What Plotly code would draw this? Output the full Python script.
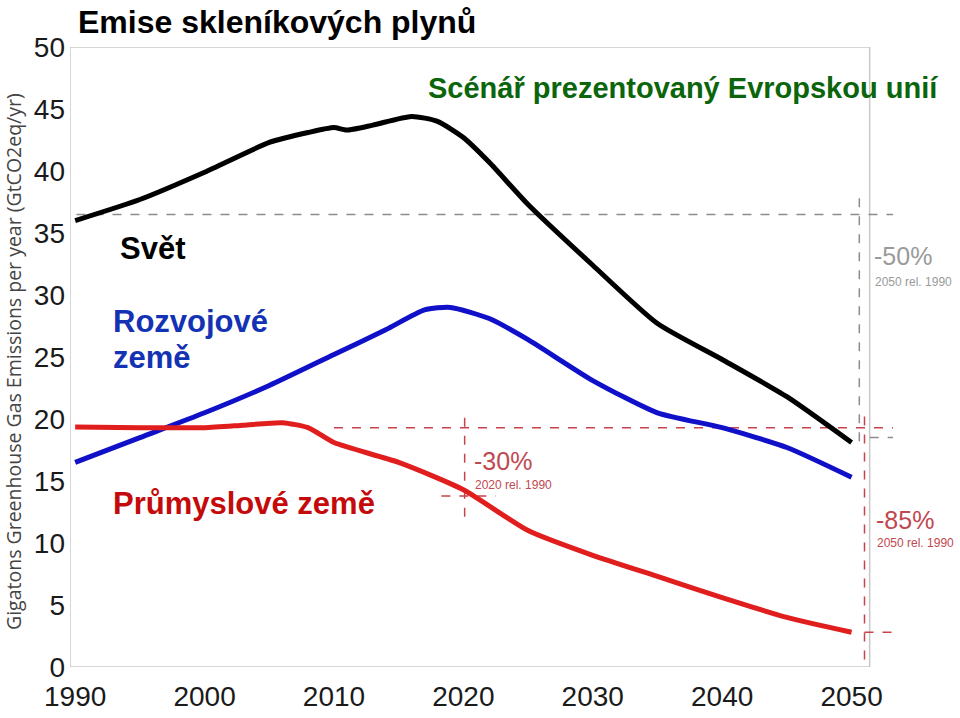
import plotly.graph_objects as go

# ---- data ----
years = [1990, 1995, 2000, 2005, 2008, 2010, 2011, 2013, 2016, 2018, 2020, 2022,
         2025, 2030, 2035, 2040, 2045, 2050]
world = [36.0, 37.7, 39.9, 42.3, 43.1, 43.5, 43.3, 43.7, 44.4, 44.0, 42.7, 40.7,
         37.3, 32.4, 27.7, 24.8, 21.8, 18.1]

dev_years = [1990, 1995, 2000, 2005, 2010, 2014, 2017, 2019, 2022, 2025, 2030,
             2035, 2040, 2045, 2050]
developing = [16.5, 18.5, 20.5, 22.7, 25.2, 27.2, 28.8, 29.0, 28.1, 26.4, 23.1,
              20.5, 19.3, 17.7, 15.3]

ind_years = [1990, 1995, 2000, 2003, 2006, 2008, 2010, 2015, 2020, 2025, 2030,
             2035, 2040, 2045, 2050]
industrial = [19.35, 19.3, 19.3, 19.5, 19.7, 19.3, 18.1, 16.5, 14.3, 11.0, 9.0,
              7.3, 5.6, 4.0, 2.8]

x_ticks = [1990, 2000, 2010, 2020, 2030, 2040, 2050]
y_ticks = [0, 5, 10, 15, 20, 25, 30, 35, 40, 45, 50]

world_ref = 36.5      # 1990 world level
ind_ref = 19.3        # 1990 industrial level
ind_2020 = 13.8       # -30 % level
world_2050 = 18.5     # -50 % level
ind_2050 = 2.8        # -85 % level

X0, X1 = 1989.6, 2054.13
FRAME_X = 2051.4

fig = go.Figure()

GRAY = "#8c8c8c"
RED_D = "#c8424c"

def dline(x0, y0, x1, y1, color, width=1.5):
    fig.add_shape(type="line", x0=x0, y0=y0, x1=x1, y1=y1, xref="x", yref="y",
                  line=dict(color=color, width=width, dash="dash"), layer="below")

# frame
for (a, b, c, d) in [(X0, 0, FRAME_X, 0), (X0, 0, X0, 50), (X0, 50, FRAME_X, 50),
                     (FRAME_X, 0, FRAME_X, 50)]:
    fig.add_shape(type="line", x0=a, y0=b, x1=c, y1=d, xref="x", yref="y",
                  line=dict(color="#c8c8c8", width=1.5), layer="below")

# reference dashed lines
dline(1990.1, world_ref, 2053.2, world_ref, GRAY)
dline(2050.6, 37.8, 2050.6, 17.5, GRAY)
dline(2051.4, world_2050, 2053.2, world_2050, GRAY)
dline(2010.0, ind_ref, 2053.2, ind_ref, RED_D)
dline(2020.1, 20.1, 2020.1, 12.0, RED_D)
dline(2018.3, ind_2020, 2022.5, ind_2020, RED_D)
dline(2051.0, 20.2, 2051.0, 0, RED_D)
dline(2051.0, ind_2050, 2053.6, ind_2050, RED_D)

fig.add_trace(go.Scatter(x=years, y=world, mode="lines", line=dict(color="#000000", width=5, shape="spline", smoothing=0.6), hoverinfo="skip"))
fig.add_trace(go.Scatter(x=dev_years, y=developing, mode="lines", line=dict(color="#1010c8", width=5, shape="spline", smoothing=0.6), hoverinfo="skip"))
fig.add_trace(go.Scatter(x=ind_years, y=industrial, mode="lines", line=dict(color="#e01e1e", width=5, shape="spline", smoothing=0.6), hoverinfo="skip"))

W, H = 960, 718
L, R, T, B = 70, 55, 47, 51
PW, PH = W - L - R, H - T - B

def px(x):
    return (x - L) / PW

def py(y):
    return (H - B - y) / PH

ann = []
def text(x, y, s, size, color, bold=True, family="Liberation Sans, Arial, sans-serif", anchor="left", angle=0):
    ann.append(dict(x=px(x), y=py(y), xref="paper", yref="paper", text=s, showarrow=False,
                    xanchor=anchor, yanchor="middle", textangle=angle,
                    font=dict(size=size, color=color, family=family,
                              weight="bold" if bold else "normal")))

text(76, 22, "Emise skleníkových plynů", 32, "#000000")
text(426, 88, "Scénář prezentovaný Evropskou unií", 29, "#0b650b")
text(118, 248, "Svět", 31, "#000000")
text(111, 321, "Rozvojové", 31, "#1432b4")
text(111, 357, "země", 31, "#1432b4")
text(111, 503, "Průmyslové země", 31, "#c40a0a")

NARROW = "Liberation Sans Narrow, Liberation Sans, sans-serif"
text(872, 256, "-50%", 25, "#9a9a9a", bold=False, family=NARROW)
text(873, 282, "2050 rel. 1990", 12, "#9a9a9a", bold=False, family=NARROW)
text(472, 461, "-30%", 25, "#c04850", bold=False, family=NARROW)
text(473, 485, "2020 rel. 1990", 12, "#c04850", bold=False, family=NARROW)
text(874, 520, "-85%", 25, "#c04850", bold=False, family=NARROW)
text(875, 543, "2050 rel. 1990", 12, "#c04850", bold=False, family=NARROW)

text(13, 362, "Gigatons Greenhouse Gas Emissions per year (GtCO2eq/yr)", 19.5, "#444444",
     bold=False, family="Open Sans, sans-serif", anchor="center", angle=-90)

fig.update_layout(
    width=W, height=H,
    margin=dict(l=L, r=R, t=T, b=B),
    paper_bgcolor="white", plot_bgcolor="white",
    showlegend=False,
    annotations=ann,
    xaxis=dict(range=[X0, X1], tickvals=x_ticks, ticktext=[str(v) for v in x_ticks],
               showgrid=False, zeroline=False, showline=False, ticks="", automargin=False,
               ticklabelstandoff=10,
               tickfont=dict(size=28, color="#1a1a1a", family=NARROW)),
    yaxis=dict(range=[0, 50], tickvals=y_ticks, showgrid=False, zeroline=False,
               showline=False, ticks="", ticklabelstandoff=4, automargin=False,
               tickfont=dict(size=28, color="#1a1a1a", family=NARROW)),
)

fig.write_html("out.html", config={"displayModeBar": False},
               post_script="document.body.style.margin='0';document.body.style.overflow='hidden';")
